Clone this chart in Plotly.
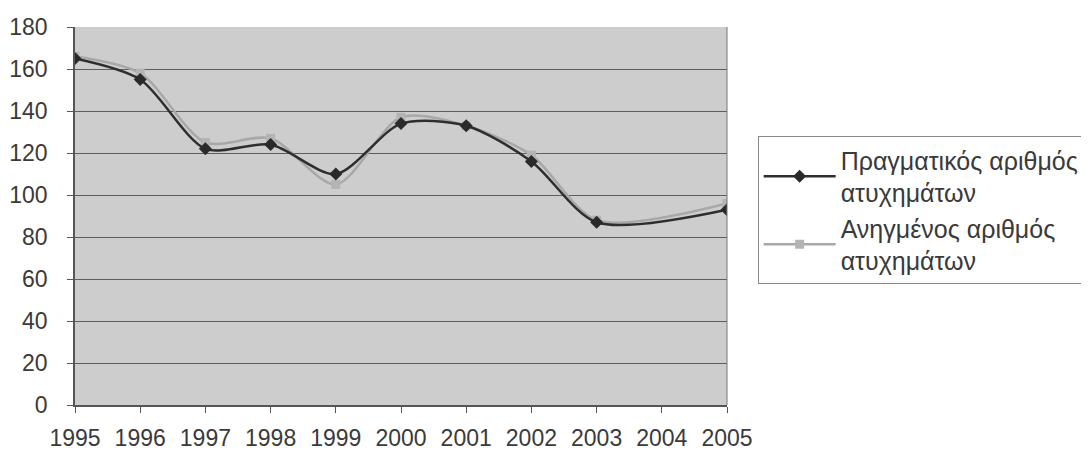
import plotly.graph_objects as go

years = ["1995", "1996", "1997", "1998", "1999", "2000", "2001", "2002", "2003", "2004", "2005"]
actual = [165, 155, 122, 124, 110, 134, 133, 116, 87, None, 93]
adjusted = [166, 158, 125, 127, 105, 137, 133, 119, 88, None, 96]
y_ticks = [0, 20, 40, 60, 80, 100, 120, 140, 160, 180]

name_actual = "Πραγματικός αριθμός<br>ατυχημάτων"
name_adjusted = "Ανηγμένος αριθμός<br>ατυχημάτων"

font_family = "Liberation Sans, Arial, sans-serif"
text_color = "#3a3a3a"

fig = go.Figure()
fig.add_trace(go.Scatter(
    x=years, y=adjusted, name=name_adjusted, mode="lines+markers",
    legendgroup="b",
    line=dict(color="#a8a8a8", width=2.5, shape="spline", smoothing=0.8),
    marker=dict(symbol="square", size=9, color="#b4b4b4"),
    connectgaps=True,
))
fig.add_trace(go.Scatter(
    x=years, y=actual, name=name_actual, mode="lines+markers",
    legendgroup="a",
    line=dict(color="#2e2e2e", width=2.5, shape="spline", smoothing=0.8),
    marker=dict(symbol="diamond", size=10, color="#2a2a2a"),
    connectgaps=True,
))

fig.update_layout(
    width=1089, height=452,
    margin=dict(l=67, r=367, t=19, b=55),
    paper_bgcolor="white",
    plot_bgcolor="#cdcdcd",
    font=dict(family=font_family, size=23, color=text_color),
    showlegend=True,
    legend=dict(
        x=1.047, y=0.515, xanchor="left", yanchor="middle",
        bordercolor="#8a8a8a", borderwidth=1, bgcolor="white",
        font=dict(size=25, color=text_color),
        traceorder="reversed", tracegroupgap=6,
        itemwidth=72,
    ),
    xaxis=dict(
        type="category", categoryorder="array", categoryarray=years,
        range=[0, len(years) - 1],
        showgrid=False, zeroline=False, automargin=False,
        showline=True, linecolor="#555555", linewidth=1.5, mirror=False,
        ticks="outside", ticklen=6, tickcolor="#555555",
        ticklabelstandoff=6,
        tickfont=dict(size=23, color=text_color),
    ),
    yaxis=dict(
        range=[0, 180], tickvals=y_ticks, automargin=False,
        showgrid=True, gridcolor="#5e5e5e", gridwidth=1,
        zeroline=False,
        showline=True, linecolor="#555555", linewidth=1.5,
        ticks="outside", ticklen=6, tickcolor="#555555",
        ticklabelstandoff=15,
        tickfont=dict(size=23, color=text_color),
    ),
)

# right border of the plot area
fig.add_shape(type="line", xref="paper", yref="paper", x0=1, x1=1, y0=0, y1=1,
              line=dict(color="#777777", width=1))

fig.write_html("out.html")
